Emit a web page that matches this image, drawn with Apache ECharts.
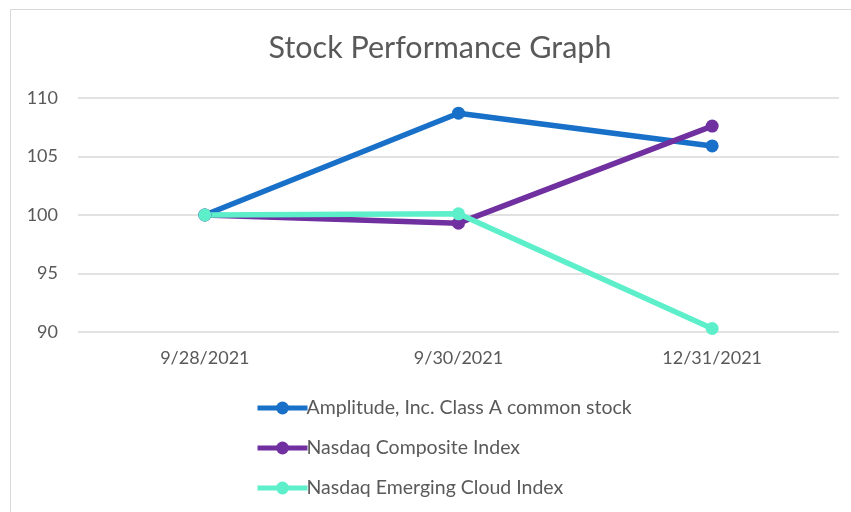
<!DOCTYPE html>
<html>
<head>
<meta charset="utf-8">
<script src="https://cdn.jsdelivr.net/npm/echarts@6/dist/echarts.min.js"></script>
<style>
html,body{margin:0;padding:0;background:#fff;}
#main{width:851px;height:512px;}
</style>
</head>
<body>
<div id="main"></div>
<script>
// 数据
var categories = ['9/28/2021', '9/30/2021', '12/31/2021'];
var seriesNames = ['Amplitude, Inc. Class A common stock', 'Nasdaq Composite Index', 'Nasdaq Emerging Cloud Index'];
var amplitudeData = [100, 108.7, 105.9];
var compositeData = [100, 99.3, 107.6];
var cloudData = [100, 100.1, 90.3];
var colors = ['#1870C8', '#7030A0', '#5DEFCA'];

var myChart = echarts.init(document.getElementById('main'));

function makeSeries(name, data, color) {
    return {
        name: name,
        type: 'line',
        symbol: 'circle',
        symbolSize: 13,
        data: data,
        itemStyle: { color: color },
        lineStyle: { color: color, width: 5.5 }
    };
}

var option = {
    animation: false,
    color: colors,
    textStyle: { fontFamily: 'Lato' },
    title: {
        text: 'Stock Performance Graph',
        left: 435,
        textAlign: 'center',
        top: 28,
        textStyle: {
            color: '#595959',
            fontSize: 30.5,
            fontWeight: 'normal',
            fontFamily: 'Lato'
        }
    },
    graphic: [{
        type: 'rect',
        shape: { x: 10.5, y: 9.5, width: 900, height: 600 },
        style: { fill: 'none', stroke: '#d9d9d9', lineWidth: 1 },
        silent: true
    }],
    legend: {
        orient: 'vertical',
        left: 250,
        top: 393,
        itemGap: 20,
        itemWidth: 50,
        itemHeight: 16,
        lineStyle: { width: 5 },
        textStyle: { color: '#595959', fontSize: 19.5, fontFamily: 'Lato', padding: [0, 0, 0, -6] },
        data: seriesNames
    },
    grid: {
        left: 78,
        right: 12,
        top: 98,
        height: 234,
        containLabel: false
    },
    xAxis: {
        type: 'category',
        data: categories,
        boundaryGap: true,
        axisLine: { show: false },
        axisTick: { show: false },
        axisLabel: { color: '#595959', fontSize: 18, margin: 17, fontFamily: 'Lato' }
    },
    yAxis: {
        type: 'value',
        min: 90,
        max: 110,
        interval: 5,
        axisLine: { show: false },
        axisTick: { show: false },
        splitLine: { lineStyle: { color: '#d9d9d9', width: 1.5 } },
        axisLabel: { color: '#595959', fontSize: 18, margin: 20, fontFamily: 'Lato' }
    },
    series: [
        makeSeries(seriesNames[0], amplitudeData, colors[0]),
        makeSeries(seriesNames[1], compositeData, colors[1]),
        makeSeries(seriesNames[2], cloudData, colors[2])
    ]
};
myChart.setOption(option);
</script>
</body>
</html>
